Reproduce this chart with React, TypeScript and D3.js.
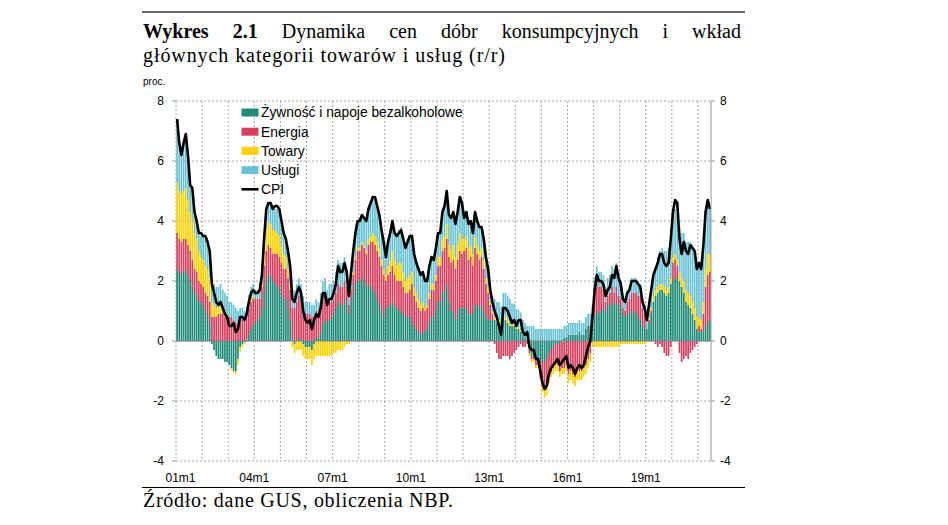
import React, { useLayoutEffect, useRef } from "react";
import * as d3 from "d3";

// Monthly data, 2001m1 - 2021m6 (percentage points / per cent, y/y)
const food = [
  2.4, 2.3, 2.2, 2.3, 2.4, 2.2, 2.0, 1.8, 1.6, 1.5, 1.3, 1.3,
  1.2, 1.0, 0.9, 0.6, -0.1, -0.3, -0.5, -0.6, -0.6, -0.6, -0.7, -0.7,
  -0.8, -0.9, -1.0, -1.0, -0.6, -0.2, -0.1, -0.05, 0.05, 0.2, 0.4, 0.5,
  0.6, 0.7, 0.8, 1.1, 1.6, 2.0, 2.2, 2.2, 2.0, 1.9, 1.8, 1.8,
  1.6, 1.4, 1.4, 1.1, 0.7, 0.1, -0.1, 0.0, 0.1, 0.0, -0.1, -0.2,
  -0.2, -0.2, -0.3, -0.1, 0.1, 0.1, 0.3, 0.6, 0.7, 0.6, 0.7, 0.8,
  0.9, 1.1, 1.3, 1.2, 1.2, 1.4, 1.2, 0.9, 1.3, 1.6, 1.9, 2.0,
  2.0, 2.1, 2.0, 1.8, 1.9, 1.8, 1.7, 1.6, 1.4, 1.2, 1.0, 0.8,
  1.1, 1.1, 1.2, 1.3, 1.2, 1.1, 1.0, 1.0, 0.9, 0.8, 0.8, 0.8,
  0.6, 0.5, 0.4, 0.3, 0.2, 0.3, 0.3, 0.4, 0.6, 0.8, 0.8, 1.0,
  1.3, 1.3, 1.6, 1.7, 1.9, 1.3, 1.0, 1.0, 0.7, 0.9, 1.1, 1.1,
  1.1, 1.1, 0.9, 0.9, 0.9, 1.2, 1.2, 1.1, 1.2, 1.0, 0.8, 0.7,
  0.7, 0.7, 0.7, 0.6, 0.6, 0.5, 0.8, 0.7, 0.6, 0.5, 0.5, 0.5,
  0.4, 0.4, 0.3, 0.2, 0.1, 0.0, -0.3, -0.5, -0.5, -0.6, -0.6, -0.7,
  -0.7, -0.7, -0.6, -0.4, -0.3, -0.2, -0.1, -0.1, -0.1, 0.0, 0.1, 0.1,
  0.2, 0.2, 0.2, 0.2, 0.2, 0.3, 0.2, 0.2, 0.4, 0.5, 0.5, 0.7,
  0.8, 1.0, 0.9, 1.0, 1.1, 1.0, 1.2, 1.2, 1.3, 1.2, 1.3, 1.2,
  1.1, 0.9, 0.8, 0.9, 0.9, 1.0, 1.0, 0.9, 0.8, 0.7, 0.5, 0.4,
  0.4, 0.6, 0.9, 1.3, 1.5, 1.6, 1.7, 1.7, 1.6, 1.5, 1.6, 1.9,
  2.0, 2.1, 2.1, 2.0, 1.8, 1.6, 1.3, 1.2, 1.1, 0.9, 0.7, 0.4,
  0.3, 0.3, 0.3, 0.5, 0.6, 0.7,
];

const energy = [
  1.2, 1.1, 1.1, 1.1, 1.0, 1.0, 1.0, 0.9, 0.8, 0.8, 0.7, 0.6,
  0.6, 0.6, 0.6, 0.7, 0.8, 0.8, 0.8, 0.9, 0.9, 0.9, 0.8, 0.8,
  0.8, 0.8, 0.7, 0.6, 0.5, 0.6, 0.7, 0.7, 0.8, 0.9, 0.9, 0.9,
  0.8, 0.7, 0.6, 0.7, 0.9, 1.0, 1.0, 0.9, 0.9, 1.0, 1.1, 1.0,
  1.0, 1.0, 1.0, 1.0, 1.0, 1.0, 1.1, 1.3, 1.4, 1.3, 1.0, 0.9,
  0.9, 0.9, 0.8, 0.8, 0.9, 0.8, 0.8, 0.9, 0.8, 0.6, 0.6, 0.5,
  0.5, 0.5, 0.6, 0.6, 0.6, 0.6, 0.6, 0.3, 0.4, 0.6, 0.8, 1.0,
  1.0, 1.1, 1.1, 1.1, 1.3, 1.5, 1.6, 1.6, 1.6, 1.6, 1.5, 1.4,
  0.9, 1.1, 1.1, 1.2, 1.0, 0.9, 1.0, 1.0, 0.9, 0.8, 0.8, 0.9,
  1.3, 1.0, 0.9, 0.8, 0.8, 0.8, 0.7, 0.7, 0.8, 0.9, 0.9, 1.0,
  1.2, 1.2, 1.4, 1.4, 1.5, 1.5, 1.6, 1.7, 1.7, 1.8, 1.9, 1.8,
  1.9, 2.0, 1.8, 1.9, 1.6, 1.9, 1.7, 1.6, 1.6, 1.4, 1.1, 0.9,
  0.5, 0.2, -0.1, -0.4, -0.6, -0.6, -0.5, -0.5, -0.5, -0.6, -0.5, -0.4,
  -0.3, -0.2, -0.1, -0.2, -0.2, -0.1, -0.1, -0.1, -0.1, -0.2, -0.2, -0.5,
  -0.8, -0.9, -0.9, -0.8, -0.7, -0.7, -0.7, -0.7, -0.9, -0.9, -0.9, -0.8,
  -1.1, -1.0, -1.1, -1.2, -1.0, -1.0, -1.0, -0.9, -0.8, -0.6, -0.4, 0.1,
  0.8, 1.0, 0.9, 0.8, 0.6, 0.3, 0.3, 0.4, 0.5, 0.4, 0.5, 0.3,
  0.3, 0.2, 0.2, 0.4, 0.5, 0.6, 0.6, 0.7, 0.7, 0.8, 0.6, 0.5,
  0.0, 0.1, 0.1, 0.0, -0.1, -0.2, -0.1, -0.2, -0.4, -0.5, -0.5, -0.2,
  0.6, 0.6, 0.4, -0.4, -0.7, -0.6, -0.5, -0.6, -0.4, -0.3, -0.2, -0.1,
  0.2, 0.1, 0.6, 1.3, 1.6, 1.6,
];

const goods = [
  1.7, 1.6, 1.6, 1.6, 1.7, 1.5, 1.3, 1.3, 1.2, 1.1, 1.0, 0.9,
  0.9, 0.9, 0.9, 0.8, 0.5, 0.4, 0.3, 0.3, 0.3, 0.2, 0.2, 0.1,
  0.0, -0.05, -0.05, -0.1, -0.2, -0.15, -0.1, -0.05, 0.0, 0.05, 0.1, 0.1,
  0.0, 0.0, 0.0, 0.1, 0.5, 0.7, 0.8, 0.8, 0.8, 0.8, 0.7, 0.7,
  0.6, 0.5, 0.4, 0.3, 0.2, -0.2, -0.3, -0.3, -0.3, -0.3, -0.4, -0.4,
  -0.4, -0.4, -0.5, -0.5, -0.5, -0.5, -0.5, -0.5, -0.5, -0.5, -0.5, -0.5,
  -0.4, -0.4, -0.3, -0.3, -0.3, -0.2, -0.1, -0.1, 0.0, 0.1, 0.1, 0.1,
  0.1, 0.1, 0.1, 0.1, 0.2, 0.2, 0.3, 0.3, 0.3, 0.3, 0.2, 0.2,
  0.2, 0.3, 0.4, 0.5, 0.5, 0.5, 0.6, 0.6, 0.5, 0.4, 0.5, 0.5,
  0.4, 0.3, 0.3, 0.3, 0.2, 0.2, 0.1, 0.1, 0.2, 0.2, 0.2, 0.2,
  0.3, 0.3, 0.4, 0.4, 0.5, 0.4, 0.4, 0.5, 0.4, 0.5, 0.6, 0.5,
  0.4, 0.4, 0.4, 0.4, 0.4, 0.4, 0.3, 0.3, 0.3, 0.3, 0.2, 0.2,
  0.1, 0.1, 0.1, 0.1, 0.1, 0.05, 0.1, 0.1, 0.1, 0.1, 0.05, 0.05,
  0.05, 0.05, 0.05, 0.0, 0.0, 0.0, -0.1, -0.1, -0.1, -0.1, -0.1, -0.1,
  -0.2, -0.3, -0.3, -0.2, -0.2, -0.2, -0.2, -0.2, -0.2, -0.2, -0.2, -0.2,
  -0.3, -0.3, -0.3, -0.3, -0.3, -0.3, -0.3, -0.3, -0.3, -0.3, -0.3, -0.2,
  -0.2, -0.2, -0.2, -0.2, -0.2, -0.2, -0.2, -0.2, -0.2, -0.2, -0.2, -0.2,
  -0.1, -0.1, -0.1, -0.1, -0.1, -0.1, -0.1, -0.1, -0.1, -0.1, -0.1, -0.1,
  0.0, 0.1, 0.1, 0.2, 0.2, 0.2, 0.2, 0.2, 0.2, 0.2, 0.2, 0.2,
  0.2, 0.2, 0.2, 0.3, 0.3, 0.4, 0.4, 0.4, 0.4, 0.4, 0.4, 0.4,
  0.3, 0.3, 0.4, 0.6, 0.7, 0.6,
];

const services = [
  1.9, 1.6, 1.3, 1.6, 1.7, 1.5, 0.9, 1.0, 0.8, 0.6, 0.6, 0.7,
  0.8, 0.9, 0.9, 0.9, 0.7, 0.7, 0.7, 0.6, 0.7, 0.6, 0.6, 0.6,
  0.5, 0.5, 0.5, 0.5, 0.5, 0.5, 0.4, 0.3, 0.3, 0.4, 0.4, 0.4,
  0.3, 0.3, 0.3, 0.3, 0.5, 0.7, 0.6, 0.7, 0.7, 0.7, 0.8, 0.8,
  0.8, 0.7, 0.6, 0.6, 0.6, 0.5, 0.6, 0.6, 0.6, 0.6, 0.5, 0.4,
  0.4, 0.4, 0.4, 0.4, 0.4, 0.4, 0.5, 0.5, 0.6, 0.5, 0.6, 0.6,
  0.6, 0.7, 0.8, 0.8, 0.8, 0.8, 0.6, 0.4, 0.6, 0.7, 0.8, 0.9,
  0.9, 0.9, 0.9, 1.0, 1.0, 1.1, 1.2, 1.3, 1.2, 1.1, 1.0, 0.9,
  0.6, 0.8, 0.9, 1.0, 1.0, 1.1, 1.1, 1.2, 1.2, 1.2, 1.3, 1.3,
  1.2, 1.1, 1.0, 1.0, 1.0, 1.0, 0.9, 0.8, 0.9, 0.9, 0.8, 0.9,
  0.8, 0.8, 0.9, 1.0, 1.1, 1.0, 1.1, 1.1, 1.1, 1.1, 1.2, 1.2,
  0.7, 0.8, 0.8, 0.8, 0.7, 0.8, 0.8, 0.8, 0.7, 0.7, 0.7, 0.6,
  0.5, 0.5, 0.6, 0.6, 0.6, 0.6, 0.7, 0.8, 0.8, 0.8, 0.7, 0.7,
  0.6, 0.6, 0.6, 0.5, 0.5, 0.5, 0.5, 0.5, 0.5, 0.4, 0.4, 0.4,
  0.4, 0.4, 0.4, 0.4, 0.4, 0.4, 0.4, 0.4, 0.4, 0.4, 0.4, 0.4,
  0.4, 0.4, 0.4, 0.4, 0.4, 0.4, 0.4, 0.4, 0.4, 0.4, 0.4, 0.4,
  0.5, 0.5, 0.5, 0.5, 0.5, 0.5, 0.6, 0.6, 0.7, 0.8, 0.8, 0.8,
  0.6, 0.4, 0.4, 0.4, 0.4, 0.5, 0.5, 0.5, 0.5, 0.4, 0.3, 0.3,
  0.3, 0.4, 0.6, 0.7, 0.8, 1.0, 1.1, 1.2, 1.2, 1.3, 1.3, 1.5,
  1.5, 1.5, 1.5, 1.5, 1.5, 1.6, 1.6, 1.7, 1.8, 1.8, 1.9, 1.6,
  1.8, 1.7, 1.8, 1.9, 1.8, 1.5,
];

const cpi = [
  7.4, 6.6, 6.2, 6.6, 6.9, 6.2, 5.2, 5.1, 4.3, 4.0, 3.6, 3.6,
  3.5, 3.5, 3.3, 3.0, 1.9, 1.6, 1.3, 1.2, 1.3, 1.1, 0.9, 0.8,
  0.5, 0.5, 0.6, 0.3, 0.4, 0.8, 0.8, 0.7, 0.9, 1.3, 1.6, 1.7,
  1.6, 1.6, 1.7, 2.2, 3.4, 4.4, 4.6, 4.6, 4.4, 4.5, 4.5, 4.4,
  4.0, 3.6, 3.4, 3.0, 2.5, 1.4, 1.3, 1.6, 1.8, 1.6, 1.0, 0.7,
  0.6, 0.7, 0.4, 0.7, 0.9, 0.8, 1.1, 1.6, 1.6, 1.2, 1.4, 1.4,
  1.6, 1.9, 2.5, 2.3, 2.3, 2.6, 2.3, 1.5, 2.3, 3.0, 3.6, 4.0,
  4.0, 4.2, 4.1, 4.0, 4.4, 4.6, 4.8, 4.8, 4.5, 4.2, 3.7, 3.3,
  2.8, 3.3, 3.6, 4.0, 3.6, 3.5, 3.6, 3.7, 3.4, 3.1, 3.3, 3.5,
  3.5, 2.9, 2.6, 2.4, 2.2, 2.3, 2.0, 2.0, 2.5, 2.8, 2.7, 3.1,
  3.6, 3.6, 4.3, 4.5, 5.0, 4.2, 4.1, 4.3, 3.9, 4.3, 4.8, 4.6,
  4.1, 4.3, 3.9, 4.0, 3.6, 4.3, 4.0, 3.8, 3.8, 3.4, 2.8, 2.4,
  1.7, 1.3, 1.0, 0.8, 0.5, 0.2, 1.1, 1.1, 1.0, 0.8, 0.6, 0.7,
  0.5, 0.7, 0.7, 0.3, 0.2, 0.3, -0.2, -0.3, -0.3, -0.6, -0.6, -1.0,
  -1.4, -1.6, -1.5, -1.1, -0.9, -0.8, -0.7, -0.6, -0.8, -0.7, -0.6, -0.5,
  -0.9, -0.8, -0.9, -1.1, -0.9, -0.8, -0.9, -0.8, -0.5, -0.2, 0.0, 0.8,
  1.7, 2.2, 2.0, 2.0, 1.9, 1.5, 1.7, 1.8, 2.2, 2.1, 2.5, 2.1,
  1.9, 1.4, 1.3, 1.6, 1.7, 2.0, 2.0, 2.0, 1.9, 1.8, 1.3, 1.1,
  0.7, 1.2, 1.7, 2.2, 2.4, 2.6, 2.9, 2.9, 2.6, 2.5, 2.6, 3.4,
  4.3, 4.7, 4.6, 3.4, 2.9, 3.3, 3.0, 2.9, 3.2, 3.1, 3.0, 2.4,
  2.6, 2.4, 3.2, 4.3, 4.7, 4.4,
];

const seriesKeys = ["food", "energy", "goods", "services"];
const seriesLabels = ["Żywność i napoje bezalkoholowe", "Energia", "Towary", "Usługi"];
const seriesColors = ["#1f8c79", "#d6405f", "#ffd100", "#68c3d6"];
const startYear = 2001;
const xTickYears = [2001, 2004, 2007, 2010, 2013, 2016, 2019];
const yTicks = [-4, -2, 0, 2, 4, 6, 8];

const titleBold = "Wykres 2.1";
const titleRest = " Dynamika cen dóbr konsumpcyjnych i wkład";
const titleLine2 = "głównych kategorii towarów i usług (r/r)";
const sourceText = "Źródło: dane GUS, obliczenia NBP.";

const W = 948;
const H = 525;
const plot = { left: 176, right: 711, top: 101, bottom: 461 };
const textLeft = 143;
const textRight = 741;
const sans = "'Liberation Sans', Arial, sans-serif";
const serif = "'Liberation Serif', 'Times New Roman', serif";

export default function App() {
  const titleRef = useRef<SVGTextElement>(null);

  useLayoutEffect(() => {
    const el = titleRef.current;
    if (!el) return;
    el.setAttribute("word-spacing", "0");
    const w = el.getComputedTextLength();
    const gaps = (titleBold + titleRest).split(" ").length - 1;
    el.setAttribute("word-spacing", String((textRight - textLeft - w) / gaps));
  }, []);

  const n = cpi.length;
  const idx = d3.range(n);
  const x = d3
    .scaleBand<number>()
    .domain(idx)
    .range([plot.left, plot.right])
    .paddingInner(0.22)
    .paddingOuter(0.11);
  const step = x.step();
  const boundary = (i: number) => (x(i) as number) - step * 0.11;
  const y = d3.scaleLinear().domain([-4, 8]).range([plot.bottom, plot.top]);

  const rows = idx.map((i) => ({
    i,
    food: food[i],
    energy: energy[i],
    goods: goods[i],
    services: services[i],
  }));
  const stacked = d3
    .stack<any>()
    .keys(seriesKeys)
    .offset(d3.stackOffsetDiverging)(rows);

  const line = d3
    .line<number>()
    .x((_, i) => (x(i) as number) + x.bandwidth() / 2)
    .y((d) => y(d));

  const yearIdx = d3.range(1, Math.ceil(n / 12)).map((k) => k * 12);

  return (
    <div style={{ position: "absolute", left: 0, top: 0 }}>
      <svg width={W} height={H} style={{ display: "block" }}>
        <rect width={W} height={H} fill="#fff" />
        {/* top rule */}
        <line x1={142} x2={745} y1={12} y2={12} stroke="#333" strokeWidth={1.5} />
        {/* title */}
        <text ref={titleRef} x={textLeft} y={38} fontFamily={serif} fontSize={20} fill="#000">
          <tspan fontWeight="bold">{titleBold}</tspan>
          {titleRest}
        </text>
        <text
          x={textLeft}
          y={62}
          fontFamily={serif}
          fontSize={20}
          fill="#000"
          textLength={362}
          lengthAdjust="spacing"
        >
          {titleLine2}
        </text>
        <text x={textLeft} y={85} fontFamily={sans} fontSize={10} fill="#000">
          proc.
        </text>

        {/* horizontal grid */}
        {yTicks.map((t) => (
          <line
            key={"h" + t}
            x1={plot.left}
            x2={plot.right}
            y1={y(t)}
            y2={y(t)}
            stroke="#a6a6a6"
            strokeWidth={1}
            strokeDasharray={t === 0 ? undefined : "2,2"}
          />
        ))}
        {/* vertical grid */}
        {yearIdx.map((i) => (
          <line
            key={"v" + i}
            x1={boundary(i)}
            x2={boundary(i)}
            y1={plot.top}
            y2={plot.bottom}
            stroke="#a6a6a6"
            strokeWidth={1}
            strokeDasharray="2,2"
          />
        ))}
        <line x1={plot.left} x2={plot.left} y1={plot.top} y2={plot.bottom} stroke="#a6a6a6" strokeDasharray="2,2" />

        {/* bars */}
        {stacked.map((s, k) => (
          <g key={s.key} fill={seriesColors[k]}>
            {s.map((d, i) => {
              const y0 = y(d[0]);
              const y1 = y(d[1]);
              const h = Math.abs(y0 - y1);
              if (h < 0.01) return null;
              return (
                <rect
                  key={i}
                  x={x(i) as number}
                  width={x.bandwidth()}
                  y={Math.min(y0, y1)}
                  height={h}
                />
              );
            })}
          </g>
        ))}
        {/* zero line on top */}
        <line x1={plot.left} x2={plot.right} y1={y(0)} y2={y(0)} stroke="#8c8c8c" strokeWidth={1} />

        {/* CPI line */}
        <path d={line(cpi) as string} fill="none" stroke="#000" strokeWidth={2.6} strokeLinejoin="round" />

        {/* right axis */}
        <line x1={plot.right} x2={plot.right} y1={plot.top} y2={plot.bottom} stroke="#999" strokeWidth={1} />
        {yTicks.map((t) => (
          <g key={"yt" + t}>
            <line x1={plot.right} x2={plot.right + 4} y1={y(t)} y2={y(t)} stroke="#999" />
            <line x1={plot.left - 4} x2={plot.left} y1={y(t)} y2={y(t)} stroke="#999" />
            <text x={164} y={y(t)} dy="0.35em" textAnchor="end" fontFamily={sans} fontSize={12} fill="#000">
              {t}
            </text>
            <text x={720} y={y(t)} dy="0.35em" textAnchor="start" fontFamily={sans} fontSize={12} fill="#000">
              {t}
            </text>
          </g>
        ))}

        {/* x labels */}
        {xTickYears.map((yr) => {
          const i = (yr - startYear) * 12;
          const xx = boundary(i) + (i === 0 ? 4.5 : 0);
          return (
            <text key={yr} x={xx} y={482} textAnchor="middle" fontFamily={sans} fontSize={12} fill="#000">
              {String(yr % 100).padStart(2, "0") + "m1"}
            </text>
          );
        })}

        {/* legend */}
        {seriesLabels.map((lab, k) => (
          <g key={lab} transform={`translate(241.5, ${112.5 + k * 19.2})`}>
            <rect x={0} y={-4} width={17} height={8} fill={seriesColors[k]} />
            <text x={19.5} y={0} dy="0.35em" fontFamily={sans} fontSize={13.8} fill="#000">
              {lab}
            </text>
          </g>
        ))}
        <g transform={`translate(241.5, ${112.5 + 4 * 19.2})`}>
          <line x1={0} x2={17} y1={0} y2={0} stroke="#000" strokeWidth={2.6} />
          <text x={19.5} y={0} dy="0.35em" fontFamily={sans} fontSize={13.8} fill="#000">
            CPI
          </text>
        </g>

        {/* bottom rule + source */}
        <line x1={142} x2={745} y1={487.5} y2={487.5} stroke="#000" strokeWidth={1} />
        <text
          x={textLeft}
          y={507}
          fontFamily={serif}
          fontSize={20}
          fill="#000"
          textLength={310}
          lengthAdjust="spacing"
        >
          {sourceText}
        </text>
      </svg>
    </div>
  );
}
